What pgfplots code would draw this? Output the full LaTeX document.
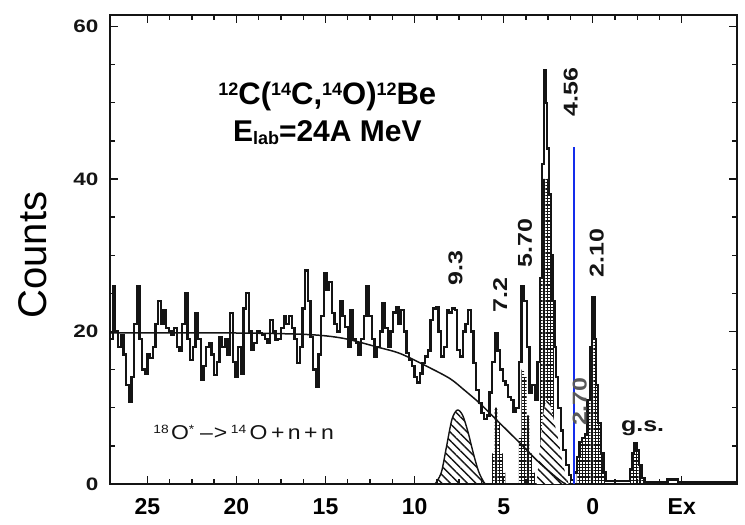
\documentclass[border=0pt]{standalone}
\usepackage{fontspec}
\setmainfont{Liberation Sans}
\usepackage{graphicx}
\usepackage{pgfplots}
\pgfplotsset{compat=1.18}
\usetikzlibrary{patterns,patterns.meta}

\definecolor{ink}{RGB}{20,20,20}
\definecolor{markerblue}{RGB}{20,45,235}

% wide, blurry lettering of the scanned spectrum
\newcommand{\scan}[1]{\scalebox{1.25}[1]{#1}}
\newcommand{\tsup}[1]{\raisebox{9.5pt}{\fontsize{18}{18}\selectfont #1}}
\newcommand{\tsub}[1]{\raisebox{-3pt}{\fontsize{18}{18}\selectfont #1}}
\newcommand{\ssup}[1]{\raisebox{6pt}{\fontsize{12}{12}\selectfont #1}}

% measured spectrum (Ex in MeV, counts per bin)
\pgfplotstableread{
ex cnt
27.10 19
26.95 26
26.80 20
26.65 18
26.50 19.5
26.35 17
26.20 13
26.05 10.8
25.90 14
25.75 21
25.60 25.9
25.45 19
25.30 15
25.15 14.5
25.00 17
24.85 16.5
24.70 18
24.55 21
24.40 24
24.25 21
24.10 22.8
23.95 20.5
23.80 20
23.65 19.5
23.50 20.5
23.35 18
23.20 17.5
23.05 21
22.90 25
22.75 19
22.60 16.3
22.45 18
22.30 22.4
22.15 19
22.00 13.6
21.85 15.5
21.70 18
21.55 18.5
21.40 17
21.25 14.3
21.10 16
20.95 19.3
20.80 18
20.65 19
20.50 17
20.35 22.4
20.20 16
20.05 14
19.90 18
19.75 14.5
19.60 23
19.45 25
19.30 20
19.15 17.6
19.00 18.5
18.85 20
18.70 19.8
18.55 19.5
18.40 19
18.25 18.5
18.10 21.5
17.95 20
17.80 18.9
17.65 19
17.50 20.5
17.35 22
17.20 21
17.05 22
16.90 20.5
16.75 19
16.60 15.9
16.45 18
16.30 23
16.15 28
16.00 24
15.85 19.3
15.70 15
15.55 12.7
15.40 17
15.25 22
15.10 27.7
14.95 25.5
14.80 26.5
14.65 22.4
14.50 21
14.35 20
14.20 24
14.05 22
13.90 20.6
13.75 18
13.60 22.8
13.45 19
13.30 18.5
13.15 17
13.00 19
12.85 22
12.70 25.9
12.55 22
12.40 19
12.25 16.7
12.10 18
11.95 20
11.80 23.7
11.65 20.5
11.50 18
11.35 20
11.20 22.5
11.05 23.2
10.90 21
10.75 22.8
10.60 20
10.45 17.2
10.30 16.3
10.15 15.5
10.00 14
9.85 13.3
9.70 14.5
9.55 15.9
9.40 16.7
9.25 17.5
9.10 21.5
8.95 23
8.80 23.2
8.65 20
8.50 16.7
8.35 18
8.20 22.8
8.05 22.5
7.90 23
7.75 22.8
7.60 17.6
7.45 16.7
7.30 20
7.15 21
7.00 22.8
6.85 20
6.70 15.9
6.55 12.3
6.40 10.6
6.25 9.3
6.10 8.5
5.95 9
5.80 12
5.65 16
5.50 19.8
5.35 17.5
5.20 15
5.05 13.5
4.90 13
4.75 11.4
4.60 11
4.45 9.5
4.30 10
4.15 16
4.00 25.9
3.85 24
3.70 18
3.55 12
3.40 13
3.25 11
3.10 16
2.95 27
2.85 42
2.75 54.3
2.65 50
2.55 44
2.45 38
2.35 30
2.25 24
2.15 18
2.05 14
1.95 10
1.80 7
1.65 4.5
1.50 2.5
1.35 1.2
1.20 0.5
1.05 1.5
0.90 3.5
0.75 5.5
0.60 6
0.45 6.5
0.30 11
0.15 18
0.05 24.5
-0.10 19
-0.20 13
-0.30 8
-0.45 4
-0.60 1.5
-0.75 0.4
-2.00 0.4
-2.10 2
-2.20 4
-2.30 5.4
-2.45 4.5
-2.60 2.5
-2.75 0.8
-2.90 0.3
-4.20 0.6
-4.80 0.3
-8.10 0.3
}\spectrum

\begin{document}
\begin{tikzpicture}
\path[use as bounding box] (0,0) rectangle (745pt,525pt);
\begin{axis}[
  at={(110pt,41pt)}, anchor=south west,
  scale only axis, width=627pt, height=469pt,
  x dir=reverse,
  xmin=-8.1, xmax=27.1, ymin=0, ymax=61.5,
  clip=false,
  axis line style={line width=2pt, ink},
  xtick={25,20,15,10,5,0,-5},
  xticklabels={25,20,15,10,5,0,Ex},
  minor x tick num=3,
  ytick={0,20,40,60},
  minor y tick num=3,
  major tick length=8pt, minor tick length=5pt,
  tick style={line width=1.4pt, ink},
  /pgf/number format/assume math mode=true,
  xticklabel style={font=\fontsize{23}{23}\selectfont\bfseries, yshift=-11pt},
  yticklabel style={font=\fontsize{18}{18}\selectfont\bfseries, xshift=-8pt, text=ink},
  yticklabel={\scan{\pgfmathprintnumber{\tick}}},
]
% fitted components: narrow states (grid hatching)
\pgfplotsset{gridhatch/.style={const plot, draw=none, pattern={Hatch[angle=0,distance=3.2pt,line width=1.1pt]}, pattern color=ink}}
\addplot[gridhatch]
  coordinates {(5.80,0) (5.65,4) (5.50,10) (5.35,8) (5.20,4) (5.05,1.5) (4.90,0)} \closedcycle;
\addplot[gridhatch]
  coordinates {(4.15,6) (4.00,15) (3.85,14) (3.70,9) (3.55,4) (3.40,1.5) (3.25,0)} \closedcycle;
\addplot[gridhatch]
  coordinates {(2.95,27) (2.85,40) (2.75,40) (2.65,40) (2.55,40) (2.45,38) (2.35,30) (2.25,24) (2.15,0)} \closedcycle;
\addplot[gridhatch]
  coordinates {(0.90,3.5) (0.75,5.5) (0.60,6) (0.45,6.5) (0.30,11) (0.15,18) (0.05,24.5) (-0.10,19) (-0.20,13) (-0.30,8) (-0.45,4) (-0.60,1.5) (-0.75,0)} \closedcycle;
\addplot[gridhatch]
  coordinates {(-2.10,2) (-2.20,4) (-2.30,5.4) (-2.45,4.5) (-2.60,2.5) (-2.75,0.8) (-2.90,0)} \closedcycle;
% broad components (diagonal hatching)
\addplot[smooth, draw=none, fill=white,
  postaction={pattern={Lines[angle=-45,distance=6pt,line width=1.4pt]}, pattern color=ink}]
  coordinates {(3.15,0) (2.95,5) (2.75,9.5) (2.55,11) (2.35,10) (2.15,8) (1.95,6) (1.75,3.5) (1.55,1.5) (1.35,0)} \closedcycle;
\addplot[smooth, draw=ink, line width=1.4pt,
  pattern={Lines[angle=-45,distance=6pt,line width=1.4pt]}, pattern color=ink]
  coordinates {(8.85,0) (8.5,1.5) (8.2,5) (7.9,8.5) (7.6,9.7) (7.3,9) (7.0,6.8) (6.7,4) (6.4,1.6) (6.1,0.2) (6.0,0)} \closedcycle;
% spectrum
\addplot[const plot, ink, line width=2.3pt, line join=miter] table[x=ex, y=cnt] {\spectrum};
% smooth background
\addplot[smooth, ink, line width=1.5pt]
  coordinates {(27.1,19.8) (20,19.8) (16,19.6) (14,19.1) (12,17.9) (10.8,17.1) (9.2,15.3) (8,13.8) (7.2,12.3) (6.35,10.6) (5.4,8.4) (4.1,5.4) (3.0,2.8) (1.85,0.5) (1.5,0)};
% marker line
\addplot[markerblue, line width=1.8pt] coordinates {(1.05,0) (1.05,44.2)};

% state labels
\begin{scope}[every node/.style={font=\fontsize{20}{20}\selectfont\bfseries, text=ink, inner sep=0pt}]
\node[rotate=90] at (7.7,28.3) {\scan{9.3}};
\node[rotate=90] at (5.2,24.8) {\scan{7.2}};
\node[rotate=90] at (3.8,31.6) {\scan{5.70}};
\node[rotate=90] at (1.24,51.4) {\scan{4.56}};
\node[rotate=90] at (-0.22,30.3) {\scan{2.10}};
\node[rotate=90, text=black!65] at (0.73,10.8) {\scan{2.70}};
\node at (-2.8,7.3) {\scan{g.s.}};
\node[font=\fontsize{20}{20}\selectfont] at (19.6,6.8) {\scalebox{1.15}[1]{\ssup{18}\hspace{2pt}O\ssup{*}\hspace{5pt}–\hspace{1pt}>\hspace{3pt}\ssup{14}\hspace{3pt}O\hspace{3pt}+\hspace{3pt}n\hspace{3pt}+\hspace{3pt}n}};
\end{scope}

% reaction
\node[anchor=base, font=\fontsize{31}{31}\selectfont\bfseries]
  at (14.9,49.7) {\tsup{12}C(\tsup{14}C,\tsup{14}O)\tsup{12}Be};
\node[anchor=base, font=\fontsize{30}{30}\selectfont\bfseries]
  at (14.9,44.9) {E\tsub{lab}=24A MeV};
\end{axis}
\node[rotate=90, font=\fontsize{40}{40}\selectfont] at (33pt,270pt) {Counts};
\end{tikzpicture}
\end{document}
